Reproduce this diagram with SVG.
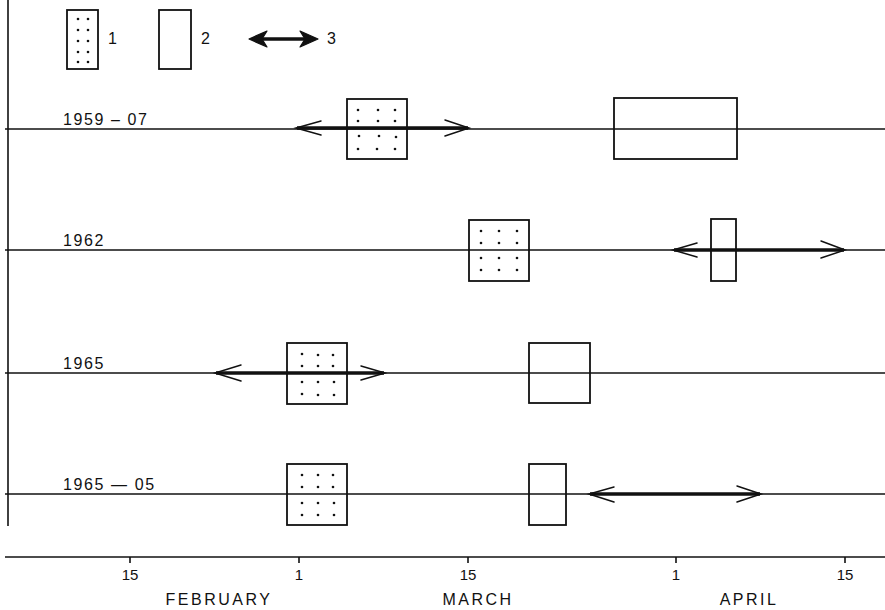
<svg xmlns="http://www.w3.org/2000/svg" width="885" height="610" viewBox="0 0 885 610">
<defs>
<style>
.ax{stroke:#111;stroke-width:1.6;fill:none}
.ln{stroke:#111;stroke-width:1.4;fill:none}
.box{fill:none;stroke:#111;stroke-width:1.8}
.shaft{stroke:#111;stroke-width:3.4;fill:none}
.head{stroke:#111;stroke-width:1.5;fill:none;stroke-linecap:round}
.dot{fill:#111}
text{font-family:"Liberation Sans",Arial,sans-serif;fill:#111}
.lbl{font-size:16px;letter-spacing:1.6px}
.lg{font-size:16px}
.tk{font-size:15px;text-anchor:middle}
.mo{font-size:16px;text-anchor:middle;letter-spacing:2.5px}
</style>
</defs>
<rect width="885" height="610" fill="#fff"/>
<g id="axes">
<line class="ax" x1="8" y1="0" x2="8" y2="526"/>
<line class="ax" x1="5" y1="557" x2="885" y2="557"/>
<g class="ax">
<line x1="130" y1="557" x2="130" y2="563"/>
<line x1="299" y1="557" x2="299" y2="563"/>
<line x1="468" y1="557" x2="468" y2="563"/>
<line x1="676" y1="557" x2="676" y2="563"/>
<line x1="845" y1="557" x2="845" y2="563"/>
</g>
<text class="tk" x="130" y="580">15</text>
<text class="tk" x="299" y="580">1</text>
<text class="tk" x="468" y="580">15</text>
<text class="tk" x="676" y="580">1</text>
<text class="tk" x="845" y="580">15</text>
<text class="mo" x="219" y="605">FEBRUARY</text>
<text class="mo" x="478" y="605">MARCH</text>
<text class="mo" x="749" y="605">APRIL</text>
</g>
<g id="legend">
<rect class="box" x="67" y="10" width="31" height="59"/>
<g class="dot">
<circle cx="78" cy="19" r="1.3"/><circle cx="88" cy="19" r="1.3"/>
<circle cx="78" cy="30" r="1.3"/><circle cx="88" cy="30" r="1.3"/>
<circle cx="78" cy="41" r="1.3"/><circle cx="88" cy="41" r="1.3"/>
<circle cx="78" cy="52" r="1.3"/><circle cx="88" cy="52" r="1.3"/>
<circle cx="78" cy="62" r="1.3"/><circle cx="88" cy="62" r="1.3"/>
</g>
<text class="lg" x="108" y="44">1</text>
<rect class="box" x="159" y="10" width="32" height="59"/>
<text class="lg" x="201" y="44">2</text>
<line class="shaft" x1="252" y1="39" x2="315" y2="39" stroke-width="4.5"/>
<polygon points="249,39 267,31 262,39 267,47" fill="#111" stroke="#111" stroke-width="1.2" stroke-linejoin="round"/>
<polygon points="318,39 300,31 305,39 300,47" fill="#111" stroke="#111" stroke-width="1.2" stroke-linejoin="round"/>
<text class="lg" x="327" y="44">3</text>
</g>
<g id="row-1959-07">
<line class="ln" x1="5" y1="129" x2="885" y2="129"/>
<text class="lbl" x="63" y="125">1959 – 07</text>
<rect class="box" x="347" y="99" width="60" height="60"/>
<g class="dot">
<circle cx="358" cy="110" r="1.3"/><circle cx="378" cy="110" r="1.3"/><circle cx="395" cy="110" r="1.3"/>
<circle cx="358" cy="121" r="1.3"/><circle cx="378" cy="121" r="1.3"/><circle cx="395" cy="121" r="1.3"/>
<circle cx="359" cy="136" r="1.3"/><circle cx="379" cy="136" r="1.3"/><circle cx="396" cy="137" r="1.3"/>
<circle cx="358" cy="149" r="1.3"/><circle cx="377" cy="149" r="1.3"/><circle cx="395" cy="149" r="1.3"/>
</g>
<rect class="box" x="614" y="98" width="123" height="61"/>
</g>
<g id="row-1962">
<line class="ln" x1="5" y1="250" x2="885" y2="250"/>
<text class="lbl" x="63" y="246">1962</text>
<rect class="box" x="469" y="220" width="60" height="61"/>
<g class="dot">
<circle cx="481" cy="231" r="1.3"/><circle cx="499" cy="231" r="1.3"/><circle cx="517" cy="231" r="1.3"/>
<circle cx="481" cy="243" r="1.3"/><circle cx="499" cy="243" r="1.3"/><circle cx="517" cy="243" r="1.3"/>
<circle cx="481" cy="258" r="1.3"/><circle cx="499" cy="258" r="1.3"/><circle cx="517" cy="258" r="1.3"/>
<circle cx="481" cy="270" r="1.3"/><circle cx="499" cy="270" r="1.3"/><circle cx="517" cy="270" r="1.3"/>
</g>
<rect class="box" x="711" y="219" width="25" height="62"/>
</g>
<g id="row-1965">
<line class="ln" x1="5" y1="373" x2="885" y2="373"/>
<text class="lbl" x="63" y="369">1965</text>
<rect class="box" x="287" y="343" width="60" height="61"/>
<g class="dot">
<circle cx="302" cy="354" r="1.3"/><circle cx="318" cy="355" r="1.3"/><circle cx="333" cy="355" r="1.3"/>
<circle cx="302" cy="366" r="1.3"/><circle cx="318" cy="366" r="1.3"/><circle cx="333" cy="366" r="1.3"/>
<circle cx="302" cy="382" r="1.3"/><circle cx="318" cy="382" r="1.3"/><circle cx="334" cy="382" r="1.3"/>
<circle cx="302" cy="394" r="1.3"/><circle cx="318" cy="395" r="1.3"/><circle cx="334" cy="395" r="1.3"/>
</g>
<rect class="box" x="529" y="343" width="61" height="60"/>
</g>
<g id="row-1965-05">
<line class="ln" x1="5" y1="494" x2="885" y2="494"/>
<text class="lbl" x="63" y="490">1965 — 05</text>
<rect class="box" x="287" y="464" width="60" height="61"/>
<g class="dot">
<circle cx="302" cy="475" r="1.3"/><circle cx="318" cy="475" r="1.3"/><circle cx="333" cy="475" r="1.3"/>
<circle cx="302" cy="487" r="1.3"/><circle cx="318" cy="487" r="1.3"/><circle cx="333" cy="487" r="1.3"/>
<circle cx="302" cy="503" r="1.3"/><circle cx="318" cy="503" r="1.3"/><circle cx="334" cy="503" r="1.3"/>
<circle cx="302" cy="515" r="1.3"/><circle cx="318" cy="515" r="1.3"/><circle cx="334" cy="515" r="1.3"/>
</g>
<rect class="box" x="529" y="464" width="37" height="61"/>
</g>
<g id="connectors">
<line class="shaft" x1="297" y1="128" x2="468" y2="128"/>
<polyline class="head" points="321,121 296,128 321,135"/>
<polyline class="head" points="445,120 469,128 445,136"/>
<line class="shaft" x1="674" y1="250" x2="844" y2="250"/>
<polyline class="head" points="697,243 673,250 697,257"/>
<polyline class="head" points="821,241 845,250 821,258"/>
<line class="shaft" x1="216" y1="373" x2="384" y2="373"/>
<polyline class="head" points="241,365 215,373 241,381"/>
<polyline class="head" points="361,366 385,373 361,380"/>
<line class="shaft" x1="590" y1="494" x2="760" y2="494"/>
<polyline class="head" points="614,487 589,494 614,502"/>
<polyline class="head" points="737,486 761,494 737,502"/>
</g>
</svg>
